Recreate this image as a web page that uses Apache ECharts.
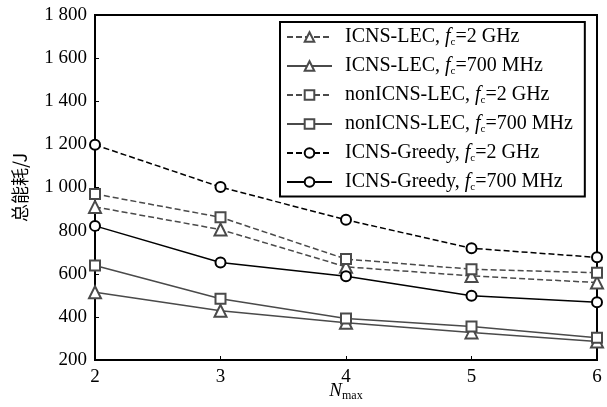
<!DOCTYPE html>
<html>
<head>
<meta charset="utf-8">
<script src="https://cdn.jsdelivr.net/npm/echarts@6/dist/echarts.min.js"></script>
<style>
  html, body { margin: 0; padding: 0; background: #fff; }
  #chart { width: 607px; height: 407px; }
</style>
</head>
<body>
<div id="chart"></div>
<script>
const nmax = ['2', '3', '4', '5', '6'];
const lec2g = [910, 805, 632, 590, 559];
const lec700 = [514, 428, 373, 328, 286];
const non2g = [970, 862, 668, 621, 605];
const non700 = [638, 484, 393, 355, 303];
const greedy2g = [1198, 1002, 850, 718, 676];
const greedy700 = [822, 652, 588, 498, 468];

const serif = 'Liberation Serif';
const grey = '#4a4a4a';

function line(name, data, color, dashed, symbol) {
  return {
    name, type: 'line', data,
    symbol, symbolSize: symbol === 'emptyTriangle' ? 12 : 10,
    lineStyle: { color, width: 1.5, type: dashed ? [6, 3] : 'solid' },
    itemStyle: { color, borderColor: color, borderWidth: 2 },
    emphasis: { disabled: true }
  };
}

const chart = echarts.init(document.getElementById('chart'));
chart.setOption({
  animation: false,
  textStyle: { fontFamily: serif, color: '#000' },
  grid: {
    left: 95, right: 10, top: 15, bottom: 47, outerBoundsMode: 'none',
    show: true, borderColor: '#000', borderWidth: 2
  },
  legend: {
    orient: 'vertical', left: 280, top: 22, width: 306,
    padding: [5, 12, 4, 6], itemGap: 8.5,
    itemWidth: 45, itemHeight: 12,
    borderColor: '#000', borderWidth: 2, backgroundColor: '#fff',
    textStyle: {
      fontSize: 20, fontFamily: serif, color: '#000', padding: [0, 0, 0, 8],
      rich: {
        i: { fontSize: 20, fontStyle: 'italic', fontFamily: serif },
        s: { fontSize: 11, fontFamily: serif, verticalAlign: 'bottom', padding: [10, 0, 0, 0] }
      }
    },
    formatter(name) {
      const p = name.split('|');
      return p[0] + ', {i|f}{s|c}=' + p[1];
    }
  },
  xAxis: {
    type: 'category', data: nmax, boundaryGap: false,
    name: '{i|N}{s|max}', nameLocation: 'middle', nameGap: 20, nameMoveOverlap: false,
    nameTextStyle: {
      verticalAlign: 'top',
      rich: {
        i: { fontSize: 19, fontStyle: 'italic', fontFamily: serif },
        s: { fontSize: 12, fontFamily: serif, padding: [10, 0, 0, 0] }
      }
    },
    axisLine: { lineStyle: { color: '#000', width: 2 } },
    axisTick: { inside: true, length: 4, lineStyle: { color: '#000' } },
    axisLabel: { fontSize: 19, color: '#000', fontFamily: serif, margin: 8 },
    splitLine: { show: false }
  },
  yAxis: {
    type: 'value', min: 200, max: 1800, interval: 200,
    name: '总能耗/J', nameLocation: 'middle', nameGap: 66,
    nameTextStyle: { fontSize: 18, fontFamily: 'Noto Sans CJK SC', color: '#000' },
    axisLine: { show: true, lineStyle: { color: '#000', width: 2 } },
    axisTick: { show: true, inside: true, length: 4, lineStyle: { color: '#000' } },
    axisLabel: {
      fontSize: 19, color: '#000', fontFamily: serif, margin: 8,
      formatter: v => v >= 1000 ? Math.floor(v / 1000) + ' ' + String(v % 1000).padStart(3, '0') : String(v)
    },
    splitLine: { show: false }
  },
  series: [
    line('ICNS-LEC|2 GHz', lec2g, grey, true, 'emptyTriangle'),
    line('ICNS-LEC|700 MHz', lec700, grey, false, 'emptyTriangle'),
    line('nonICNS-LEC|2 GHz', non2g, grey, true, 'emptyRect'),
    line('nonICNS-LEC|700 MHz', non700, grey, false, 'emptyRect'),
    line('ICNS-Greedy|2 GHz', greedy2g, '#000', true, 'emptyCircle'),
    line('ICNS-Greedy|700 MHz', greedy700, '#000', false, 'emptyCircle')
  ]
});
</script>
</body>
</html>
